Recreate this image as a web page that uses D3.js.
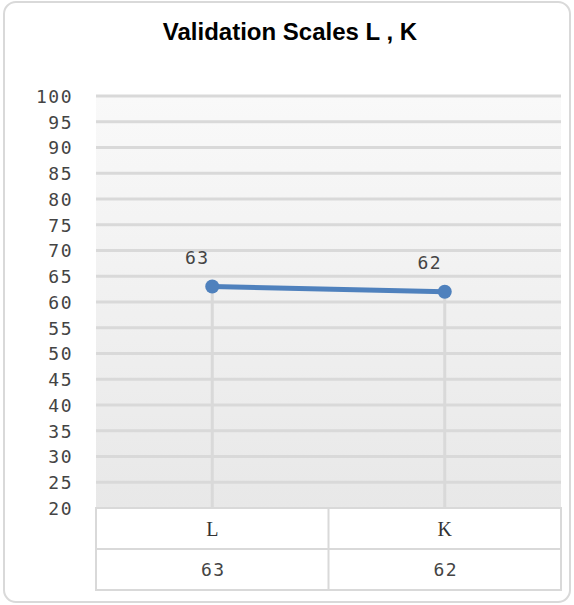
<!DOCTYPE html>
<html>
<head>
<meta charset="utf-8">
<script src="https://cdn.jsdelivr.net/npm/d3@7"></script>
<style>
  body { margin: 0; background: #fff; }
  .num { font-family: "DejaVu Sans Mono", monospace; font-size: 18px; letter-spacing: 1.5px; fill: #444; }
  .cat { font-family: "Liberation Serif", serif; font-size: 20px; fill: #333; }
</style>
</head>
<body>
<div id="chart"></div>
<script>
// chart data
var categories = ["L", "K"];
var values = [63, 62];
var yTicks = [20, 25, 30, 35, 40, 45, 50, 55, 60, 65, 70, 75, 80, 85, 90, 95, 100];

var width = 574, height = 605;
var plot = { left: 96, right: 561, top: 96, bottom: 508 };
var rowH = 41;

var svg = d3.select("#chart").append("svg")
  .attr("width", width)
  .attr("height", height);

var defs = svg.append("defs");
var grad = defs.append("linearGradient")
  .attr("id", "bg")
  .attr("x1", "0%").attr("y1", "0%")
  .attr("x2", "0%").attr("y2", "100%");
grad.append("stop").attr("offset", "0%").attr("stop-color", "#f9f9f9");
grad.append("stop").attr("offset", "100%").attr("stop-color", "#e8e8e8");

// outer frame
svg.append("rect")
  .attr("x", 4).attr("y", 2)
  .attr("width", 566).attr("height", 600)
  .attr("rx", 12)
  .style("fill", "#fff")
  .style("stroke", "#d9d9d9")
  .style("stroke-width", 2);

svg.append("text")
  .attr("x", 290).attr("y", 40)
  .attr("text-anchor", "middle")
  .style("font-family", "'Liberation Sans', Arial, sans-serif")
  .style("font-weight", "bold")
  .style("font-size", "24px")
  .text("Validation Scales L , K");

var x = d3.scaleBand()
  .domain(categories)
  .range([plot.left, plot.right]);

var y = d3.scaleLinear()
  .domain([20, 100])
  .range([plot.bottom, plot.top]);

// plot background
svg.append("rect")
  .attr("x", plot.left).attr("y", plot.top)
  .attr("width", plot.right - plot.left)
  .attr("height", plot.bottom - plot.top)
  .style("fill", "url(#bg)");

// gridlines
svg.append("g")
  .selectAll("line")
  .data(yTicks.filter(function(d) { return d > 20; }))
  .enter().append("line")
  .attr("x1", plot.left).attr("x2", plot.right)
  .attr("y1", function(d) { return y(d); })
  .attr("y2", function(d) { return y(d); })
  .style("stroke", "#d9d9d9")
  .style("stroke-width", 3);

// y axis labels
var yAxis = d3.axisLeft(y).tickValues(yTicks).tickSize(0).tickPadding(0);
var gy = svg.append("g")
  .attr("transform", "translate(73,0)")
  .attr("font-family", null)
  .attr("font-size", null)
  .call(yAxis);
gy.select(".domain").remove();
gy.selectAll("text")
  .attr("class", "num")
  .attr("fill", null)
  .attr("dy", "0.35em");

var cx = function(d, i) { return x(categories[i]) + x.bandwidth() / 2; };

// drop lines
svg.append("g")
  .selectAll("line")
  .data(values)
  .enter().append("line")
  .attr("x1", cx).attr("x2", cx)
  .attr("y1", function(d) { return y(d); })
  .attr("y2", plot.bottom)
  .style("stroke", "#d9d9d9")
  .style("stroke-width", 3);

// line
var line = d3.line()
  .x(cx)
  .y(function(d) { return y(d); });

svg.append("path")
  .datum(values)
  .attr("d", line)
  .style("fill", "none")
  .style("stroke", "#4f81bd")
  .style("stroke-width", 5);

svg.append("g")
  .selectAll("circle")
  .data(values)
  .enter().append("circle")
  .attr("cx", cx)
  .attr("cy", function(d) { return y(d); })
  .attr("r", 7)
  .style("fill", "#4f81bd");

// data labels
svg.append("g")
  .selectAll("text")
  .data(values)
  .enter().append("text")
  .attr("class", "num")
  .attr("x", function(d, i) { return cx(d, i) - 15; })
  .attr("y", function(d) { return y(d) - 23; })
  .attr("text-anchor", "middle")
  .text(function(d) { return d; });

// data table
var table = svg.append("g");
table.append("rect")
  .attr("x", plot.left).attr("y", plot.bottom)
  .attr("width", plot.right - plot.left)
  .attr("height", rowH * 2)
  .style("fill", "#fff")
  .style("stroke", "#d9d9d9")
  .style("stroke-width", 2);
table.append("line")
  .attr("x1", plot.left).attr("x2", plot.right)
  .attr("y1", plot.bottom + rowH).attr("y2", plot.bottom + rowH)
  .style("stroke", "#d9d9d9").style("stroke-width", 2);
table.selectAll(".div")
  .data(categories.slice(1))
  .enter().append("line")
  .attr("x1", function(d) { return x(d); })
  .attr("x2", function(d) { return x(d); })
  .attr("y1", plot.bottom).attr("y2", plot.bottom + rowH * 2)
  .style("stroke", "#d9d9d9").style("stroke-width", 2);

table.selectAll(".cat")
  .data(categories)
  .enter().append("text")
  .attr("class", "cat")
  .attr("x", function(d) { return x(d) + x.bandwidth() / 2; })
  .attr("y", plot.bottom + rowH / 2)
  .attr("dy", "0.35em")
  .attr("text-anchor", "middle")
  .text(function(d) { return d; });

table.selectAll(".val")
  .data(values)
  .enter().append("text")
  .attr("class", "num")
  .attr("x", function(d, i) { return cx(d, i) + 1; })
  .attr("y", plot.bottom + rowH * 1.5)
  .attr("dy", "0.35em")
  .attr("text-anchor", "middle")
  .text(function(d) { return d; });
</script>
</body>
</html>
